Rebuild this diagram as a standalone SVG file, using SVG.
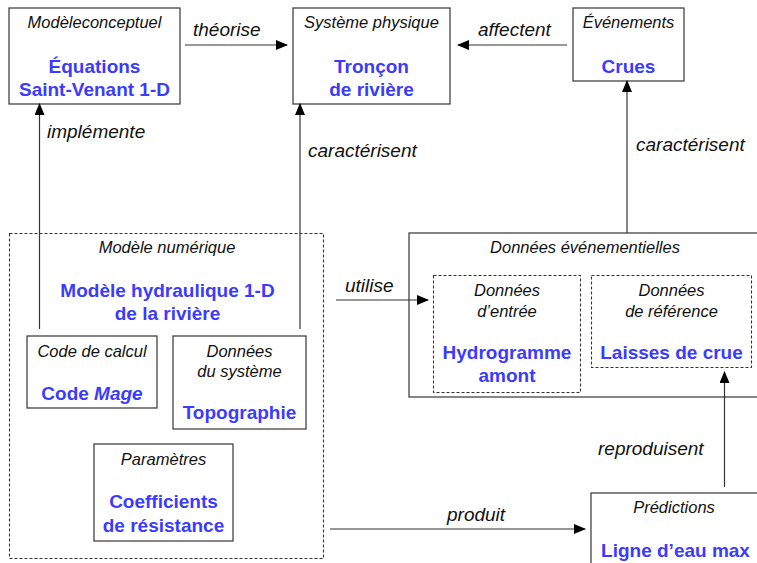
<svg xmlns="http://www.w3.org/2000/svg" width="757" height="563" viewBox="0 0 757 563">
<defs>
<marker id="ah" markerUnits="userSpaceOnUse" markerWidth="12" markerHeight="10" refX="11" refY="5" orient="auto">
<path d="M0,0 L12,5 L0,10 Z" fill="#000"/>
</marker>
<style>
.box{fill:#fff;stroke:#444;stroke-width:1.3}
.dbox{fill:none;stroke:#333;stroke-width:1.1;stroke-dasharray:3,2}
.t{font-family:"Liberation Sans",Arial,sans-serif;font-style:italic;font-size:16.5px;fill:#111;text-anchor:middle}
.b{font-family:"Liberation Sans",Arial,sans-serif;font-weight:bold;font-size:19px;fill:#3b3bff;text-anchor:middle}
.l{font-family:"Liberation Sans",Arial,sans-serif;font-style:italic;font-size:19px;fill:#111}
.c{stroke:#333;stroke-width:1.2;fill:none;marker-end:url(#ah)}
</style>
</defs>
<rect width="757" height="563" fill="#fff"/>

<g id="modele-conceptuel">
<rect class="box" x="9" y="8" width="171" height="96"/>
<text class="t" x="94.5" y="28">Modèleconceptuel</text>
<text class="b" x="94.5" y="73">Équations</text>
<text class="b" x="94.5" y="96">Saint-Venant 1-D</text>
</g>

<g id="systeme-physique">
<rect class="box" x="293" y="8" width="157" height="96"/>
<text class="t" x="371.5" y="28">Système physique</text>
<text class="b" x="371.5" y="73">Tronçon</text>
<text class="b" x="371.5" y="96">de rivière</text>
</g>

<g id="evenements">
<rect class="box" x="573" y="8" width="111" height="73"/>
<text class="t" x="628.5" y="28">Événements</text>
<text class="b" x="628.5" y="73">Crues</text>
</g>

<g id="modele-numerique">
<rect class="dbox" x="9.5" y="233.5" width="314" height="325"/>
<text class="t" x="167" y="253">Modèle numérique</text>
<text class="b" x="167.5" y="297">Modèle hydraulique 1-D</text>
<text class="b" x="167.5" y="320">de la rivière</text>
</g>

<g id="code-de-calcul">
<rect class="box" x="27" y="336" width="130" height="72"/>
<text class="t" x="92" y="357">Code de calcul</text>
<text class="b" x="92" y="400">Code <tspan font-style="italic">Mage</tspan></text>
</g>

<g id="donnees-systeme">
<rect class="box" x="173" y="336" width="133" height="93"/>
<text class="t" x="239.5" y="357">Données</text>
<text class="t" x="239.5" y="377">du système</text>
<text class="b" x="239.5" y="419">Topographie</text>
</g>

<g id="parametres">
<rect class="box" x="94" y="444" width="139" height="97"/>
<text class="t" x="163.5" y="465">Paramètres</text>
<text class="b" x="163.5" y="508">Coefficients</text>
<text class="b" x="163.5" y="532">de résistance</text>
</g>

<g id="donnees-evenementielles">
<rect class="box" x="409" y="233" width="352" height="164"/>
<text class="t" x="585" y="253">Données événementielles</text>
</g>

<g id="donnees-entree">
<rect class="dbox" x="433.5" y="275.5" width="147" height="117"/>
<text class="t" x="507" y="296">Données</text>
<text class="t" x="507" y="317">d’entrée</text>
<text class="b" x="507" y="359">Hydrogramme</text>
<text class="b" x="507" y="382">amont</text>
</g>

<g id="donnees-reference">
<rect class="dbox" x="591.5" y="275.5" width="160" height="92"/>
<text class="t" x="671.5" y="296">Données</text>
<text class="t" x="671.5" y="317">de référence</text>
<text class="b" x="671.5" y="359">Laisses de crue</text>
</g>

<g id="predictions">
<rect class="box" x="591" y="493" width="172" height="80"/>
<text class="t" x="674" y="513">Prédictions</text>
<text class="b" x="675.5" y="557">Ligne d’eau max</text>
</g>

<g id="connectors">
<line class="c" x1="185" y1="45" x2="287" y2="45"/>
<text class="l" x="193" y="36">théorise</text>
<line class="c" x1="567" y1="45" x2="458" y2="45"/>
<text class="l" x="478" y="36">affectent</text>
<line class="c" x1="39.5" y1="329" x2="39.5" y2="104"/>
<text class="l" x="47" y="138">implémente</text>
<line class="c" x1="300" y1="329" x2="300" y2="104"/>
<text class="l" x="308" y="157">caractérisent</text>
<line class="c" x1="627" y1="233" x2="627" y2="81"/>
<text class="l" x="636" y="151">caractérisent</text>
<line class="c" x1="336" y1="300" x2="428" y2="300"/>
<text class="l" x="345" y="292">utilise</text>
<line class="c" x1="724.5" y1="487" x2="724.5" y2="372"/>
<text class="l" x="598" y="455">reproduisent</text>
<line class="c" x1="330" y1="529" x2="585" y2="529"/>
<text class="l" x="447" y="521">produit</text>
</g>
</svg>
